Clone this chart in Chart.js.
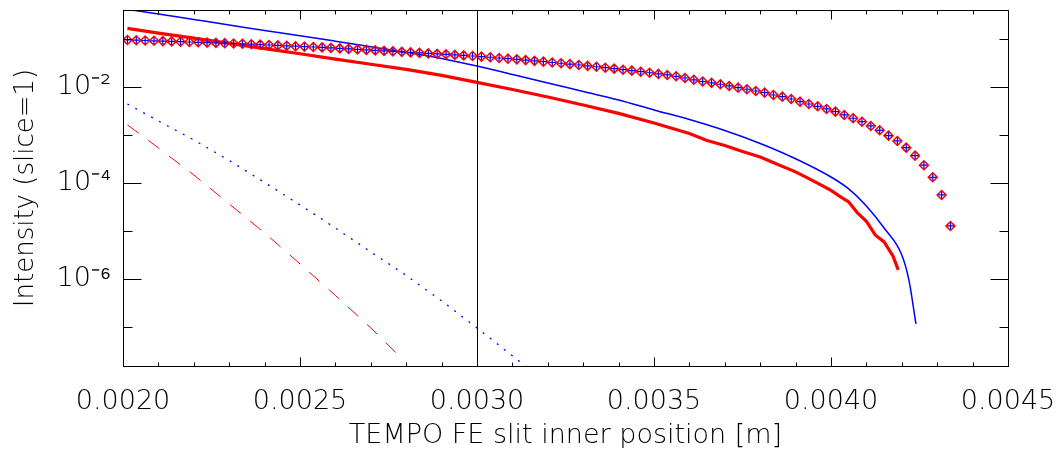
<!DOCTYPE html>
<html>
<head>
<meta charset="utf-8">
<title>TEMPO FE slit intensity</title>
<script src="https://cdn.jsdelivr.net/npm/chart.js@4.4.1/dist/chart.umd.min.js"></script>
<style>
  html, body { margin: 0; padding: 0; background: #fff; }
  canvas { display: block; }
</style>
</head>
<body>
<canvas id="slitChart" width="1061" height="452"></canvas>
<script>
// slit positions of the marker points [m]
const markerX = [
  0.0020125, 0.0020375, 0.0020625, 0.0020875, 0.0021125, 0.0021375, 0.0021625, 0.0021875,
  0.0022125, 0.0022375, 0.0022625, 0.0022875, 0.0023125, 0.0023375, 0.0023625, 0.0023875,
  0.0024125, 0.0024375, 0.0024625, 0.0024875, 0.0025125, 0.0025375, 0.0025625, 0.0025875,
  0.0026125, 0.0026375, 0.0026625, 0.0026875, 0.0027125, 0.0027375, 0.0027625, 0.0027875,
  0.0028125, 0.0028375, 0.0028625, 0.0028875, 0.0029125, 0.0029375, 0.0029625, 0.0029875,
  0.0030125, 0.0030375, 0.0030625, 0.0030875, 0.0031125, 0.0031375, 0.0031625, 0.0031875,
  0.0032125, 0.0032375, 0.0032625, 0.0032875, 0.0033125, 0.0033375, 0.0033625, 0.0033875,
  0.0034125, 0.0034375, 0.0034625, 0.0034875, 0.0035125, 0.0035375, 0.0035625, 0.0035875,
  0.0036125, 0.0036375, 0.0036625, 0.0036875, 0.0037125, 0.0037375, 0.0037625, 0.0037875,
  0.0038125, 0.0038375, 0.0038625, 0.0038875, 0.0039125, 0.0039375, 0.0039625, 0.0039875,
  0.0040125, 0.0040375, 0.0040625, 0.0040875, 0.0041125, 0.0041375, 0.0041625, 0.0041875,
  0.0042125, 0.0042375, 0.0042625, 0.0042875, 0.0043125, 0.0043375
];
const markerY = [
  0.0953, 0.0944, 0.0931, 0.0917, 0.0904, 0.0891, 0.0878, 0.0866, 0.0853, 0.0841,
  0.0829, 0.0818, 0.0806, 0.0794, 0.0779, 0.0764, 0.0750, 0.0736, 0.0722, 0.0708,
  0.0695, 0.0681, 0.0668, 0.0652, 0.0637, 0.0622, 0.0607, 0.0593, 0.0579, 0.0565,
  0.0552, 0.0539, 0.0526, 0.0513, 0.0501, 0.0489, 0.0478, 0.0466, 0.0455, 0.0442,
  0.0430, 0.0416, 0.0402, 0.0389, 0.0376, 0.0363, 0.0350, 0.0337, 0.0324, 0.0312,
  0.0300, 0.0287, 0.0275, 0.0264, 0.0252, 0.0241, 0.0229, 0.0219, 0.0208, 0.0198,
  0.0187, 0.0178, 0.0167, 0.0154, 0.0141, 0.0130, 0.0122, 0.0114, 0.0105, 0.00967,
  0.00896, 0.00825, 0.00761, 0.00681, 0.00628, 0.00562, 0.00494, 0.00442, 0.00396, 0.00348,
  0.00306, 0.00261, 0.00223, 0.00189, 0.00154, 0.00125, 0.000967, 0.000750, 0.000544, 0.000370,
  0.000234, 0.000131, 5.62e-5, 1.27e-5
];

// thin blue solid curve
const blueX = [
  0.0020, 0.0021, 0.0022, 0.0023, 0.0024, 0.0025, 0.0026, 0.0027, 0.0028, 0.0029, 0.0030,
  0.0031, 0.0032, 0.0033, 0.0034, 0.0035, 0.0036, 0.0037, 0.0038, 0.0039, 0.0040,
  0.00405, 0.0041, 0.00415, 0.0042, 0.00422, 0.00424
];
const blueY = [
  0.428, 0.332, 0.255, 0.196, 0.150, 0.117, 0.0900, 0.0688, 0.0531, 0.0393, 0.0274,
  0.0182, 0.0121, 0.00806, 0.00536, 0.00332, 0.00210, 0.00124, 0.000665, 0.000320, 0.000133,
  7.50e-5, 3.32e-5, 1.15e-5, 3.16e-6, 9.5e-7, 1.15e-7
];

// thick red solid curve
const redX = [
  0.0020125, 0.0021, 0.0022, 0.0023, 0.0024, 0.0025, 0.0026, 0.0027, 0.0028, 0.0029,
  0.0030, 0.0031, 0.0032, 0.0033, 0.0034, 0.0035, 0.0036, 0.00365, 0.0037, 0.00375,
  0.0038, 0.00385, 0.0039, 0.00395, 0.0040, 0.004025, 0.00405, 0.004075, 0.0041,
  0.004125, 0.00415, 0.004175, 0.00419
];
const redY = [
  0.167, 0.133, 0.104, 0.0810, 0.0631, 0.0492, 0.0381, 0.0297, 0.0232, 0.0174,
  0.0125, 0.00887, 0.00619, 0.00422, 0.00281, 0.00178, 0.00107, 0.000768, 0.000604, 0.000453,
  0.000348, 0.000243, 0.000170, 0.000110, 6.98e-5, 5.23e-5, 4.02e-5, 2.37e-5, 1.58e-5,
  8.25e-6, 5.90e-6, 3.01e-6, 1.54e-6
];

// blue dotted curve
const dotX = [0.0020125, 0.0021, 0.0022, 0.0023, 0.0024, 0.0025, 0.0026, 0.0027, 0.0028, 0.0029, 0.0030, 0.0031, 0.00315];
const dotY = [0.00442, 0.00196, 0.000787, 0.000294, 0.000102, 3.48e-5, 1.15e-5, 3.65e-6, 1.18e-6, 3.48e-7, 9.53e-8, 2.49e-8, 1.27e-8];

// red dashed curve
const dashX = [0.0020125, 0.0021, 0.0022, 0.0023, 0.0024, 0.0025, 0.0026, 0.0027, 0.00278];
const dashY = [0.00162, 0.000536, 0.000147, 3.65e-5, 9.08e-6, 2.05e-6, 4.53e-7, 9.53e-8, 2.49e-8];

// vertical marker at 0.0030 m
const markLineX = 0.0030;

// axes
const xMin = 0.0020, xMax = 0.0045;
const yMin = 1.53e-8, yMax = 0.402;
const xTickValues = [0.0020, 0.0025, 0.0030, 0.0035, 0.0040, 0.0045];
const xTickLabels = ["0.0020", "0.0025", "0.0030", "0.0035", "0.0040", "0.0045"];
const yTickValues = [1e-2, 1e-4, 1e-6];
const yTickLabels = ["10\u207B\u00B2", "10\u207B\u2074", "10\u207B\u2076"];
const yDecades = [1e-1, 1e-2, 1e-3, 1e-4, 1e-5, 1e-6, 1e-7];

function pts(xs, ys) {
  return xs.map((x, i) => ({ x: x, y: ys[i] }));
}

const fontFamily = "'DejaVu Sans', sans-serif";

// thin black marker line, kept on whole pixels so it stays sharp
const markLine = {
  id: "markLine",
  beforeDatasetsDraw(chart) {
    const ctx = chart.ctx;
    const a = chart.chartArea;
    const px = Math.round(chart.scales.x.getPixelForValue(markLineX)) + 0.5;
    ctx.save();
    ctx.strokeStyle = "#000";
    ctx.lineWidth = 1;
    ctx.beginPath();
    ctx.moveTo(px, a.top);
    ctx.lineTo(px, a.bottom);
    ctx.stroke();
    ctx.restore();
  }
};

// box round the plot with inward ticks on all four sides
const frameTicks = {
  id: "frameTicks",
  afterDraw(chart) {
    const ctx = chart.ctx;
    const a = chart.chartArea;
    const xs = chart.scales.x;
    const ys = chart.scales.y;
    const L = Math.round(a.left) + 0.5, R = Math.round(a.right) + 0.5;
    const T = Math.round(a.top) + 0.5, B = Math.round(a.bottom) + 0.5;
    ctx.save();
    ctx.strokeStyle = "#000";
    ctx.lineWidth = 1;
    ctx.beginPath();
    for (let i = 0; i <= 25; i++) {
      const px = Math.round(xs.getPixelForValue(xMin + i * 0.0001)) + 0.5;
      const len = i % 5 === 0 ? 9 : 4;
      ctx.moveTo(px, B); ctx.lineTo(px, B - len);
      ctx.moveTo(px, T); ctx.lineTo(px, T + len);
    }
    yDecades.forEach((v, i) => {
      const py = Math.round(ys.getPixelForValue(v)) + 0.5;
      const len = i % 2 === 1 ? 18 : 9;
      ctx.moveTo(L, py); ctx.lineTo(L + len, py);
      ctx.moveTo(R, py); ctx.lineTo(R - len, py);
    });
    ctx.stroke();
    ctx.strokeRect(L, T, R - L, B - T);
    ctx.restore();
  }
};

new Chart(document.getElementById("slitChart"), {
  type: "scatter",
  data: {
    datasets: [
      {
        label: "plus",
        data: pts(markerX, markerY),
        showLine: false,
        pointStyle: "cross",
        pointRadius: 3.5,
        pointBorderWidth: 1.2,
        pointBorderColor: "#0000ff",
        order: 0
      },
      {
        label: "diamond",
        data: pts(markerX, markerY),
        showLine: false,
        pointStyle: "rectRot",
        pointRadius: 4.5,
        pointBorderWidth: 1.5,
        pointBorderColor: "#ff0000",
        pointBackgroundColor: "rgba(0,0,0,0)",
        order: 1
      },
      {
        label: "red",
        data: pts(redX, redY),
        showLine: true,
        borderColor: "#ff0000",
        borderWidth: 3.2,
        pointRadius: 0,
        order: 2
      },
      {
        label: "blue",
        data: pts(blueX, blueY),
        showLine: true,
        borderColor: "#0000ff",
        borderWidth: 1.5,
        cubicInterpolationMode: "monotone",
        pointRadius: 0,
        order: 3
      },
      {
        label: "dotted",
        data: pts(dotX, dotY),
        showLine: true,
        borderColor: "#0000ff",
        borderWidth: 1.3,
        borderDash: [2, 7],
        pointRadius: 0,
        order: 4
      },
      {
        label: "dashed",
        data: pts(dashX, dashY),
        showLine: true,
        borderColor: "#ff0000",
        borderWidth: 1,
        borderDash: [14, 12],
        pointRadius: 0,
        order: 5
      }
    ]
  },
  options: {
    responsive: false,
    animation: false,
    devicePixelRatio: 1,
    layout: { padding: { top: 10, right: 53, left: 0, bottom: 0 } },
    plugins: {
      legend: { display: false },
      tooltip: { enabled: false }
    },
    scales: {
      x: {
        type: "linear",
        min: xMin,
        max: xMax,
        grid: { display: false },
        border: { display: false },
        afterBuildTicks: (scale) => {
          scale.ticks = xTickValues.map((v) => ({ value: v }));
        },
        afterFit: (scale) => {
          scale.height = 86;
          scale.paddingLeft = 0;
          scale.paddingRight = 0;
        },
        ticks: {
          autoSkip: false,
          maxRotation: 0,
          padding: 12,
          color: "#000",
          font: { family: fontFamily, size: 27, weight: "300" },
          callback: (value, index) => xTickLabels[index]
        },
        title: {
          display: true,
          text: "TEMPO FE slit inner position [m]",
          color: "#000",
          padding: { top: 6, bottom: 0 },
          font: { family: fontFamily, size: 27, weight: "300" }
        }
      },
      y: {
        type: "logarithmic",
        min: yMin,
        max: yMax,
        grid: { display: false },
        border: { display: false },
        afterBuildTicks: (scale) => {
          scale.ticks = yTickValues.map((v) => ({ value: v }));
        },
        afterFit: (scale) => {
          scale.width = 123;
          scale.paddingTop = 0;
          scale.paddingBottom = 0;
        },
        ticks: {
          autoSkip: false,
          padding: 4,
          color: "#000",
          font: { family: fontFamily, size: 27, weight: "300" },
          callback: (value, index) => yTickLabels[index]
        },
        title: {
          display: true,
          text: "Intensity (slice=1)",
          color: "#000",
          padding: { top: 11, bottom: 0 },
          font: { family: fontFamily, size: 26, weight: "300" }
        }
      }
    }
  },
  plugins: [markLine, frameTicks]
});
</script>
</body>
</html>
